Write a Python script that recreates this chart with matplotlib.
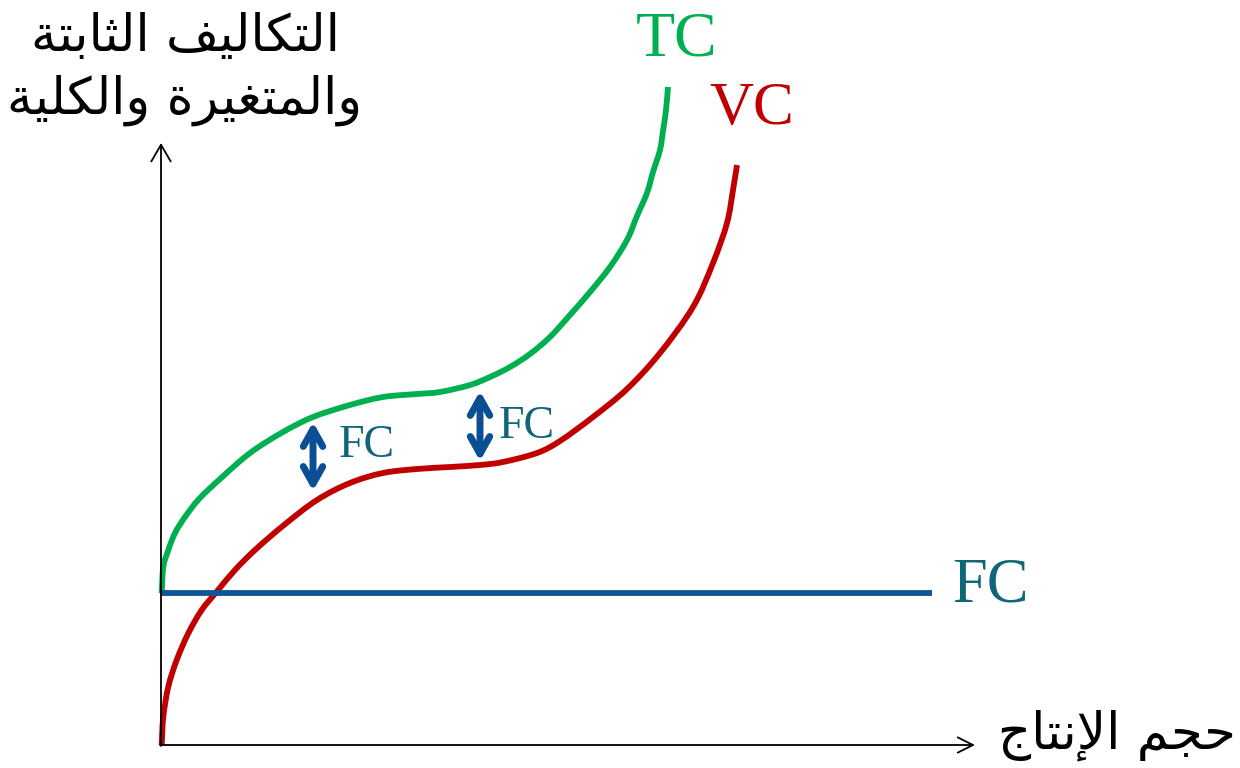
import matplotlib
matplotlib.use("Agg")
import matplotlib.pyplot as plt
from matplotlib.path import Path
from matplotlib.patches import PathPatch

# ---------------- data ----------------
# quantity (x) and cost (y) in arbitrary units, origin at the axes corner
tc_q = [0.07, 0.23, 0.73, 1.4, 2.4, 3.8, 5.9, 8.9, 12.2, 15.2, 18.9, 22.2, 25.6, 27.9,
        30.9, 32.9, 34.9, 36.9, 38.9, 40.9, 42.9, 44.9, 46.6, 47.6, 48.6, 49.2,
        49.9, 50.2, 50.5, 50.7]
tc_c = [15.2, 17.8, 19.5, 21.2, 22.8, 24.6, 26.6, 29.2, 31.3, 32.8, 34.0, 34.8, 35.1, 35.3,
        36.0, 36.8, 37.8, 39.1, 40.8, 43.0, 45.3, 47.8, 50.5, 52.9, 55.2, 57.3,
        59.5, 61.4, 63.5, 65.8]

vc_q = [0.07, 0.23, 0.73, 1.57, 2.73, 4.07, 5.57, 7.4, 9.4, 12.3, 15.6, 18.9, 22.2, 25.6,
        28.9, 31.9, 34.2, 37.6, 39.9, 43.2, 46.6, 49.9, 53.2, 55.2, 56.6, 57.2, 57.6]
vc_c = [0.0, 2.83, 5.83, 8.5, 11.17, 13.5, 15.33, 17.5, 19.5, 22.0, 24.5, 26.2, 27.2, 27.6,
        27.8, 28.0, 28.3, 29.2, 30.4, 32.8, 35.6, 39.2, 43.8, 48.2, 52.2, 55.5, 58.0]

fc_level = 15.2
fc_q_range = [0.0, 77.1]

fc_gap_q = [15.2, 31.9]          # positions of the two FC double arrows
fc_gap_top = [32.3, 35.4]
fc_gap_bottom = [25.4, 28.4]

y_axis_top = 60.2
x_axis_right = 81.4

y_title = "التكاليف الثابتة\nوالمتغيرة والكلية"
x_title = "حجم الإنتاج"

# ---------------- minimal Arabic shaping for display ----------------
FORMS = {
    'ا': (0xFE8D, 0xFE8E), 'إ': (0xFE87, 0xFE88),
    'ب': (0xFE8F, 0xFE90, 0xFE91, 0xFE92), 'ة': (0xFE93, 0xFE94),
    'ت': (0xFE95, 0xFE96, 0xFE97, 0xFE98), 'ث': (0xFE99, 0xFE9A, 0xFE9B, 0xFE9C),
    'ج': (0xFE9D, 0xFE9E, 0xFE9F, 0xFEA0), 'ح': (0xFEA1, 0xFEA2, 0xFEA3, 0xFEA4),
    'ر': (0xFEAD, 0xFEAE), 'غ': (0xFECD, 0xFECE, 0xFECF, 0xFED0),
    'ف': (0xFED1, 0xFED2, 0xFED3, 0xFED4), 'ك': (0xFED9, 0xFEDA, 0xFEDB, 0xFEDC),
    'ل': (0xFEDD, 0xFEDE, 0xFEDF, 0xFEE0), 'م': (0xFEE1, 0xFEE2, 0xFEE3, 0xFEE4),
    'ن': (0xFEE5, 0xFEE6, 0xFEE7, 0xFEE8), 'و': (0xFEED, 0xFEEE),
    'ي': (0xFEF1, 0xFEF2, 0xFEF3, 0xFEF4),
}
LAM_ALEF = {'ا': (0xFEFB, 0xFEFC), 'إ': (0xFEF9, 0xFEFA)}


def shape_line(text):
    toks = []
    i = 0
    while i < len(text):
        c = text[i]
        if c == 'ل' and i + 1 < len(text) and text[i + 1] in LAM_ALEF:
            toks.append(('LA', text[i + 1]))
            i += 2
        else:
            toks.append(('C', c))
            i += 1

    def dual(t):
        return t[0] == 'C' and t[1] in FORMS and len(FORMS[t[1]]) == 4

    def joinable(t):
        return t[0] == 'LA' or t[1] in FORMS

    out = []
    for k, t in enumerate(toks):
        prev = toks[k - 1] if k > 0 else None
        nxt = toks[k + 1] if k + 1 < len(toks) else None
        jp = prev is not None and dual(prev) and joinable(t)
        if t[0] == 'LA':
            out.append(chr(LAM_ALEF[t[1]][1 if jp else 0]))
        elif t[1] in FORMS:
            f = FORMS[t[1]]
            jn = dual(t) and nxt is not None and joinable(nxt)
            if jp and jn:
                out.append(chr(f[3]))
            elif jp:
                out.append(chr(f[1]))
            elif jn:
                out.append(chr(f[2]))
            else:
                out.append(chr(f[0]))
        else:
            out.append(t[1])
    return ''.join(reversed(out))


def shape(text):
    return '\n'.join(shape_line(l) for l in text.split('\n'))


def smooth_path(xs, ys):
    """Smooth (Catmull-Rom style) Bezier stroke through the given points."""
    pts = list(zip(xs, ys))
    n = len(pts)
    verts = [pts[0]]
    codes = [Path.MOVETO]
    for i in range(n - 1):
        p0 = pts[i - 1] if i > 0 else pts[i]
        p1 = pts[i]
        p2 = pts[i + 1]
        p3 = pts[i + 2] if i + 2 < n else pts[i + 1]
        c1 = (p1[0] + (p2[0] - p0[0]) / 6.0, p1[1] + (p2[1] - p0[1]) / 6.0)
        c2 = (p2[0] - (p3[0] - p1[0]) / 6.0, p2[1] - (p3[1] - p1[1]) / 6.0)
        verts += [c1, c2, p2]
        codes += [Path.CURVE4] * 3
    return Path(verts, codes)


# ---------------- figure ----------------
GREEN = '#00B050'
RED = '#C00000'
BLUE = '#0E5597'
TEAL = '#0F6679'
ARROW_BLUE = '#0A4E94'
LW = 4.2

fig = plt.figure(figsize=(12.4, 7.68), dpi=100)
ax = fig.add_axes([0, 0, 1, 1])
ax.set_xlim(-16.1, 107.9)
ax.set_ylim(-2.3, 74.5)
ax.axis('off')

# axes with open arrowheads
ax.annotate('', xy=(0, y_axis_top), xytext=(0, -0.1),
            arrowprops=dict(arrowstyle='->,head_length=1.2,head_width=0.7', color='black',
                            lw=1.3, shrinkA=0, shrinkB=0))
ax.annotate('', xy=(x_axis_right, 0), xytext=(-0.1, 0),
            arrowprops=dict(arrowstyle='->,head_length=1.1,head_width=0.55', color='black',
                            lw=1.3, shrinkA=0, shrinkB=0))

# FC line
ax.plot(fc_q_range, [fc_level, fc_level], color=BLUE, lw=LW, solid_capstyle='butt')
# VC and TC curves (smooth strokes through the read points)
for xs, ys, col in [(vc_q, vc_c, RED), (tc_q, tc_c, GREEN)]:
    ax.add_patch(PathPatch(smooth_path(xs, ys), fill=False, edgecolor=col, lw=LW,
                           capstyle='butt', joinstyle='round'))

# FC double arrows
for q, top, bot in zip(fc_gap_q, fc_gap_top, fc_gap_bottom):
    ax.annotate('', xy=(q, top), xytext=(q, bot),
                arrowprops=dict(arrowstyle='<->,head_length=1.25,head_width=0.7',
                                color=ARROW_BLUE, lw=5.0, shrinkA=0, shrinkB=0,
                                joinstyle='round', capstyle='round'))

serif = ['Liberation Serif', 'DejaVu Serif']
ax.text(51.6, 70.4, 'TC', color=GREEN, fontsize=46, family=serif, ha='center', va='center')
ax.text(59.1, 63.6, 'VC', color=RED, fontsize=44, family=serif, ha='center', va='center')
ax.text(82.9, 15.9, 'FC', color=TEAL, fontsize=45, family=serif, ha='center', va='center')
ax.text(20.6, 29.9, 'FC', color=TEAL, fontsize=33, family=serif, ha='center', va='center')
ax.text(36.6, 31.8, 'FC', color=TEAL, fontsize=33, family=serif, ha='center', va='center')

ax.text(2.4, 67.6, shape(y_title), fontsize=37, family=['DejaVu Sans'],
        ha='center', va='center', linespacing=1.3, color='black')
ax.text(95.6, 1.0, shape(x_title), fontsize=37, family=['DejaVu Sans'],
        ha='center', va='center', color='black')

fig.savefig('out.png', dpi=100, facecolor='white')
